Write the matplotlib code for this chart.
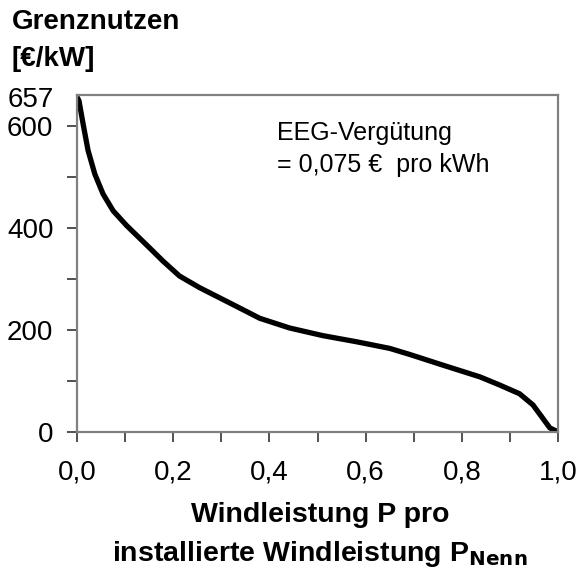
import numpy as np
import matplotlib
matplotlib.use("Agg")
import matplotlib.pyplot as plt
from matplotlib.ticker import MultipleLocator, FixedLocator

# Werte
p_rel = [0.0, 0.004, 0.0125, 0.023, 0.037, 0.054, 0.075, 0.103, 0.151, 0.179,
         0.213, 0.255, 0.324, 0.380, 0.442, 0.511, 0.581, 0.650, 0.692, 0.761,
         0.838, 0.879, 0.920, 0.948, 0.969, 0.983, 0.995, 1.0]
nutzen = [657, 650, 605, 552, 506, 467, 434, 405, 361, 335,
          306, 283, 250, 223, 204, 189, 177, 164, 152, 131,
          108, 92, 75, 53, 26, 8, 2.5, 1]
yticks = [0, 200, 400, 600, 657]
xticks = [0, 0.2, 0.4, 0.6, 0.8, 1.0]

plt.rcParams["font.family"] = ["Liberation Sans", "DejaVu Sans"]

fig = plt.figure(figsize=(5.8, 5.74), dpi=100)
ax = fig.add_axes([0.1328, 0.2474, 0.8293, 0.5871])

ax.plot(p_rel, nutzen, color="black", lw=3.8, solid_capstyle="butt",
        solid_joinstyle="round")

ax.set_xlim(0, 1.0)
ax.set_ylim(0, 661)
ax.set_xticks(xticks)
ax.set_xticklabels([f"{v:.1f}".replace(".", ",") for v in xticks])
ax.xaxis.set_minor_locator(MultipleLocator(0.1))
ax.yaxis.set_major_locator(FixedLocator(yticks))
ax.set_yticklabels([str(v) for v in yticks])
ax.yaxis.set_minor_locator(FixedLocator([100, 300, 500]))

for s in ax.spines.values():
    s.set_color("#808080")
    s.set_linewidth(1.6)
ax.tick_params(which="both", direction="out", length=7, width=1.2,
               color="#333333", labelsize=20)
ax.tick_params(axis="x", pad=13)
ax.tick_params(axis="y", pad=10)
ax.yaxis.get_major_ticks()[-1].tick1line.set_visible(False)

ax.text(0.416, 0.887, "EEG-Vergütung", transform=ax.transAxes,
        fontsize=18, va="center", ha="left")
ax.text(0.416, 0.792, "= 0,075 €  pro kWh", transform=ax.transAxes,
        fontsize=18, va="center", ha="left")

fig.text(0.02, 0.962, "Grenznutzen", fontsize=20, fontweight="bold", va="center")
fig.text(0.02, 0.897, "[€/kW]", fontsize=20, fontweight="bold", va="center")
fig.text(0.552, 0.102, "Windleistung P pro", fontsize=20.5, fontweight="bold",
         ha="center", va="center")
fig.text(0.552, 0.035, "installierte Windleistung P$_{\\mathbf{Nenn}}$", fontsize=20.5,
         fontweight="bold", ha="center", va="center")

fig.savefig("out.png", dpi=100)
